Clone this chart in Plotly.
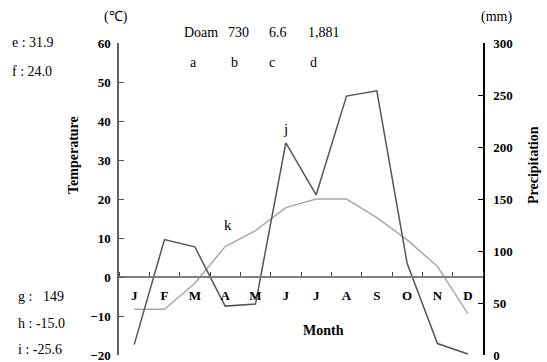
import plotly.graph_objects as go

# Monthly climate data
months = ["J", "F", "M", "A", "M", "J", "J", "A", "S", "O", "N", "D"]
month_num = list(range(1, 13))
temperature = [-8.3, -8.3, -1.6, 7.8, 11.9, 17.8, 20.0, 20.0, 15.2, 9.5, 2.7, -9.4]
precipitation = [10, 111, 104, 47, 49, 204, 154, 249, 254, 88, 11, 1]

header_values = ["Doam", "730", "6.6", "1,881"]
header_keys = ["a", "b", "c", "d"]
side_stats_top = ["e : 31.9", "f : 24.0"]
side_stats_bottom = ["g :   149", "h : -15.0", "i : -25.6"]

W, H = 547, 362
L, R, T, B = 119, 64, 43, 7
PW, PH = W - L - R, H - T - B

SERIF = "Liberation Serif, Times New Roman, serif"


def px(x):
    return (x - L) / PW


def py(y):
    return (H - B - y) / PH


fig = go.Figure()

fig.add_trace(go.Scatter(
    x=month_num, y=temperature, mode="lines", name="Temperature",
    line=dict(color="#a8a8a8", width=1.5), yaxis="y", showlegend=False,
))
fig.add_trace(go.Scatter(
    x=month_num, y=precipitation, mode="lines", name="Precipitation",
    line=dict(color="#555555", width=1.5), yaxis="y2", showlegend=False,
))

fig.update_layout(
    width=W, height=H,
    margin=dict(l=L, r=R, t=T, b=B, autoexpand=False),
    paper_bgcolor="white", plot_bgcolor="white",
    xaxis=dict(
        range=[0.5, 12.5], tickmode="array", tickvals=month_num, ticktext=months,
        ticks="", showgrid=False, zeroline=False, automargin=False,
        anchor="free", position=20 / 80,
        showline=True, linecolor="#808080", linewidth=2,
        tickfont=dict(family=SERIF, size=13, color="black", weight="bold"),
        ticklabelstandoff=6,
        minor=dict(tick0=0.5, dtick=1, ticks="inside", ticklen=4,
                   tickcolor="#404040", tickwidth=1, showgrid=False),
    ),
    yaxis=dict(
        range=[-20, 60], dtick=10, ticks="inside", ticklen=5,
        tickcolor="#505050", showline=True, linecolor="#606060", linewidth=1.5,
        showgrid=False, zeroline=False, ticklabeloverflow="allow",
        automargin=False,
        tickfont=dict(family=SERIF, size=13, color="black", weight="bold"),
        ticklabelstandoff=4,
    ),
    yaxis2=dict(
        range=[0, 300], dtick=50, ticks="inside", ticklen=5,
        tickcolor="black", showline=True, linecolor="black", linewidth=1.5,
        overlaying="y", side="right", showgrid=False, zeroline=False,
        ticklabeloverflow="allow", automargin=False,
        tickfont=dict(family=SERIF, size=13, color="black", weight="bold"),
        ticklabelstandoff=6,
    ),
)

ann = []


def text(x, y, s, size=14, bold=False, xanchor="center", angle=0):
    ann.append(dict(
        x=px(x), y=py(y), xref="paper", yref="paper", text=s, showarrow=False,
        xanchor=xanchor, yanchor="middle", textangle=angle,
        font=dict(family=SERIF, size=size, color="black",
                  weight="bold" if bold else "normal"),
    ))


# Station header and its key letters
for cx, v in zip([201, 238, 278, 324], header_values):
    text(cx, 33, v)
for cx, k in zip([193, 234, 272, 313], header_keys):
    text(cx, 62, k)

# Side statistics
for cy, s in zip([42, 71], side_stats_top):
    text(10, cy, s, xanchor="left")
for cy, s in zip([296, 323, 349], side_stats_bottom):
    text(16, cy, s, xanchor="left")

# Units and axis titles
text(116, 17, "(℃)")
text(496, 17, "(mm)")
text(73, 155, "Temperature", bold=True, angle=-90)
text(533, 165, "Precipitation", bold=True, angle=-90)
text(323, 330, "Month", bold=True)

# Point labels
ann.append(dict(x=6, y=precipitation[5], xref="x", yref="y2", text="j",
                showarrow=False, yshift=14,
                font=dict(family=SERIF, size=15, color="black")))
ann.append(dict(x=4, y=temperature[3], xref="x", yref="y", text="k",
                showarrow=False, yshift=22, xshift=3,
                font=dict(family=SERIF, size=15, color="black")))

fig.update_layout(annotations=ann)

fig.write_html("out.html")
